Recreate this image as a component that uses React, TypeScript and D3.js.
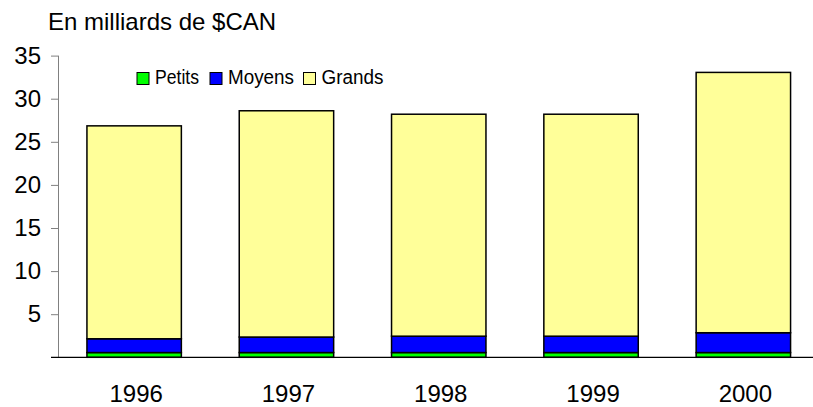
import React, { useRef, useEffect } from "react";
import * as d3 from "d3";

const years = ["1996", "1997", "1998", "1999", "2000"];
const petits = [0.55, 0.55, 0.55, 0.55, 0.55];
const moyens = [1.6, 1.8, 1.9, 1.9, 2.3];
const grands = [24.7, 26.25, 25.75, 25.75, 30.2];
const seriesNames = ["Petits", "Moyens", "Grands"];
const seriesColors = ["#00ff00", "#0000ff", "#ffff99"];
const yTicks = [5, 10, 15, 20, 25, 30, 35];

const App = () => {
  const ref = useRef<SVGSVGElement>(null);

  useEffect(() => {
    const svg = d3.select(ref.current);
    svg.selectAll("*").remove();
    const font = "Arial, 'Liberation Sans', sans-serif";

    const x = d3
      .scaleBand()
      .domain(years)
      .range([58, 819.5])
      .paddingInner(0.38)
      .paddingOuter(0.19);
    const y = d3.scaleLinear().domain([0, 35]).range([357.3, 55.6]);

    // title
    svg
      .append("text")
      .attr("x", 48)
      .attr("y", 30)
      .attr("font-family", font)
      .attr("font-size", 24)
      .text("En milliards de $CAN");

    // y axis
    const ya = svg
      .append("g")
      .attr("transform", "translate(58,0)")
      .call(d3.axisLeft(y).tickValues(yTicks).tickSize(7).tickPadding(10));
    ya.select(".domain").attr("stroke", "#808080").attr("d", `M0.5,${y(35)}V${y(0)}`);
    ya.selectAll(".tick line").attr("stroke", "#808080");
    ya.selectAll(".tick text")
      .attr("font-family", font)
      .attr("font-size", 24)
      .attr("fill", "#000");

    // stacked bars
    const rows = years.map((yr, i) => ({ year: yr, Petits: petits[i], Moyens: moyens[i], Grands: grands[i] }));
    const stack = d3.stack<any>().keys(seriesNames)(rows);
    stack.forEach((layer, li) => {
      svg
        .append("g")
        .selectAll("rect")
        .data(layer)
        .join("rect")
        .attr("x", (d: any) => x(d.data.year)!)
        .attr("width", x.bandwidth())
        .attr("y", (d: any) => y(d[1]))
        .attr("height", (d: any) => y(d[0]) - y(d[1]))
        .attr("fill", seriesColors[li])
        .attr("stroke", "#000")
        .attr("stroke-width", 1.5);
    });

    // baseline
    svg
      .append("line")
      .attr("x1", 51)
      .attr("x2", 813)
      .attr("y1", y(0))
      .attr("y2", y(0))
      .attr("stroke", "#000")
      .attr("stroke-width", 1.2);

    // x labels
    svg
      .append("g")
      .selectAll("text")
      .data(years)
      .join("text")
      .attr("x", (d) => x(d)! + x.bandwidth() / 2 + 2)
      .attr("y", 401.5)
      .attr("text-anchor", "middle")
      .attr("font-family", font)
      .attr("font-size", 24)
      .text((d) => d);

    // legend
    const legendX = [137, 210, 303.5];
    const legendW = [44, 66, 62];
    const lg = svg.append("g");
    seriesNames.forEach((name, i) => {
      lg.append("rect")
        .attr("x", legendX[i])
        .attr("y", 72.5)
        .attr("width", 12)
        .attr("height", 12)
        .attr("fill", seriesColors[i])
        .attr("stroke", "#000")
        .attr("stroke-width", 1);
      lg.append("text")
        .attr("x", legendX[i] + 18)
        .attr("y", 84)
        .attr("font-family", font)
        .attr("font-size", 20)
        .attr("textLength", legendW[i])
        .attr("lengthAdjust", "spacingAndGlyphs")
        .text(name);
    });
  }, []);

  return (
    <svg
      ref={ref}
      width={813}
      height={407}
      style={{ position: "absolute", left: 0, top: 0, background: "#fff" }}
    />
  );
};

export default App;
